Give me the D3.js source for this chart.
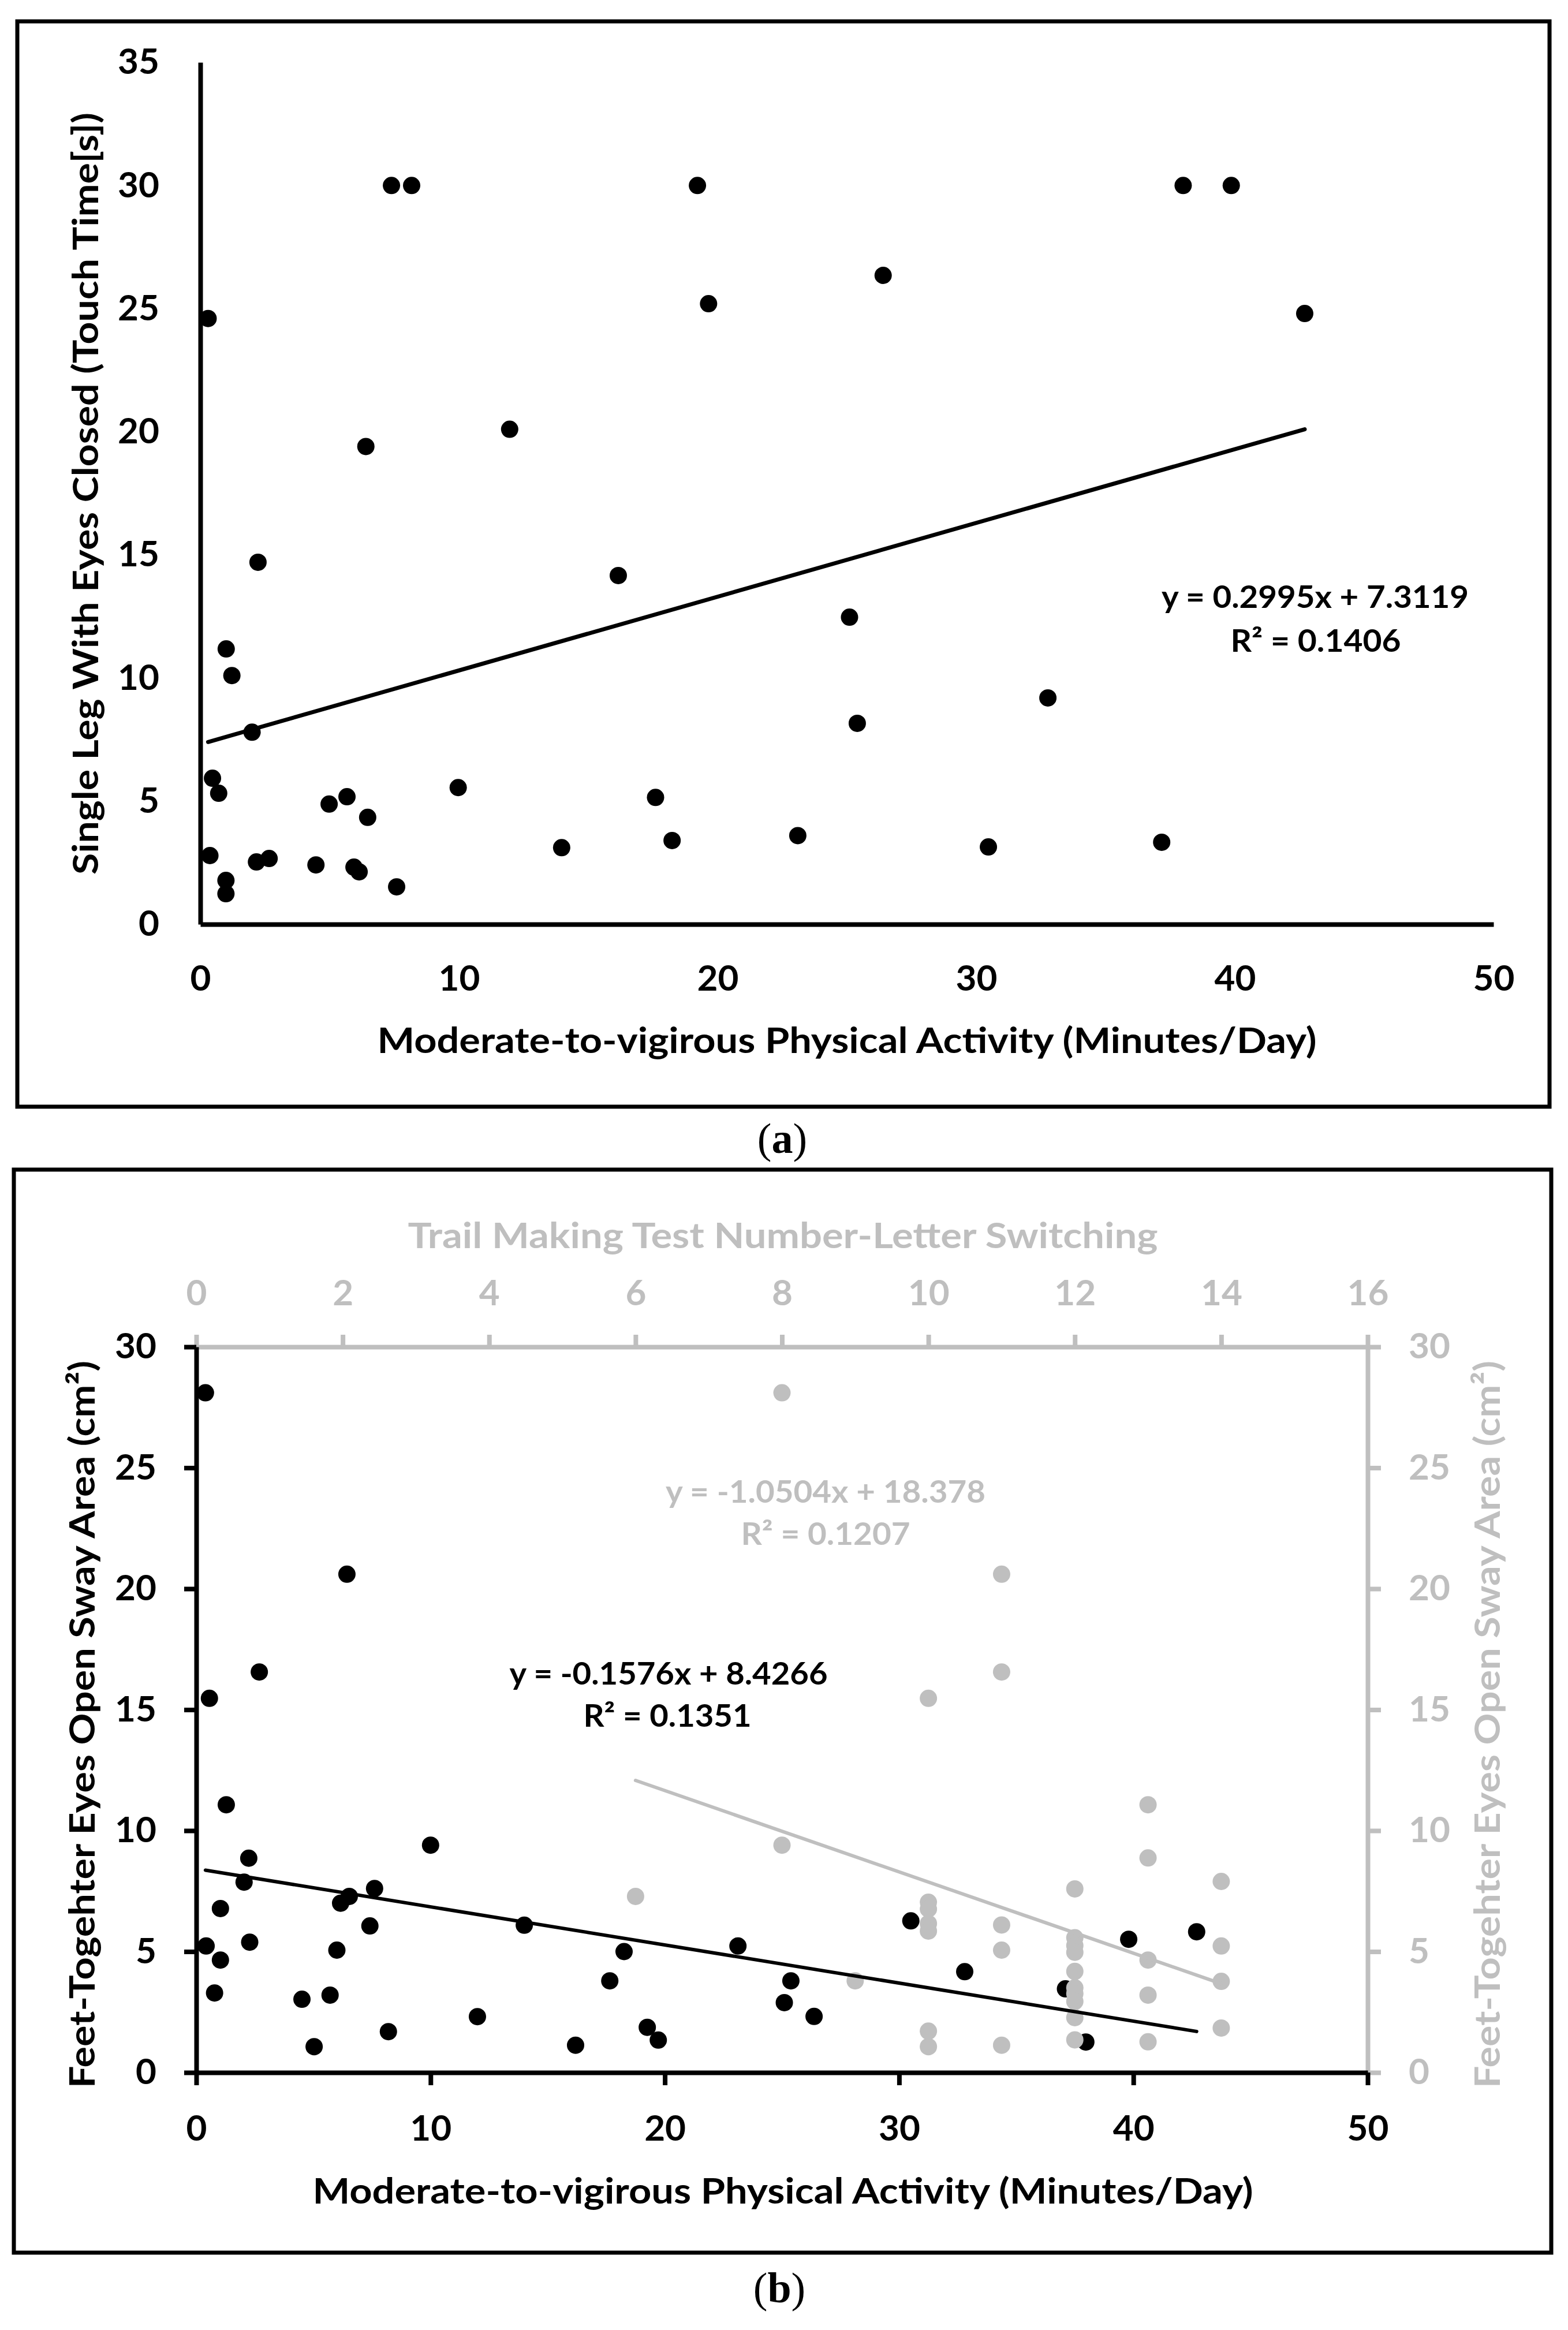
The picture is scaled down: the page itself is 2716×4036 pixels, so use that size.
<!DOCTYPE html>
<html>
<head>
<meta charset="utf-8">
<script src="https://cdn.jsdelivr.net/npm/d3@7"></script>
<style>
    body { margin: 0; background: #fff; }
    svg { display: block; }
    text { font-family: Lato, "Open Sans", sans-serif; font-weight: bold; }
</style>
</head>
<body>
<div id="container"></div>
<script>

// ---- panel (a) : MVPA vs single leg eyes closed
var mvpaA = [0.3, 7.39, 8.17, 19.22, 19.65, 11.96, 6.4, 2.23, 16.16, 38.0, 39.86, 26.4, 42.7,
    1.0, 1.22, 2.0, 0.47, 0.71, 4.98, 5.67, 6.47, 9.97, 17.6, 18.24, 13.97, 0.37, 2.17, 2.66,
    4.47, 5.94, 6.14, 0.99, 0.99, 7.59, 25.1, 25.4, 32.77, 23.1, 30.47, 37.17];
var slecA = [24.6, 30, 30, 30, 25.2, 20.1, 19.4, 14.7, 14.16, 30, 30, 26.35, 24.8,
    11.18, 10.1, 7.8, 5.93, 5.32, 4.88, 5.18, 4.34, 5.55, 5.15, 3.4, 3.11, 2.79, 2.53, 2.67,
    2.41, 2.32, 2.13, 1.78, 1.24, 1.52, 12.47, 8.16, 9.19, 3.6, 3.14, 3.33];
var fitA = { slope: 0.2995, intercept: 7.3119, r2: "0.1406" };

// ---- panel (b) : MVPA (black) and TMT switching (grey) vs feet-together eyes open sway
var mvpaB = [0.39, 6.43, 2.69, 0.56, 1.28, 2.24, 2.04, 1.03, 0.42, 1.03, 2.28, 0.78, 6.53,
    6.16, 7.61, 7.41, 6.0, 4.51, 5.71, 5.03, 8.2, 10.0, 12.0, 14.0, 16.19, 17.65, 18.26,
    19.25, 19.72, 23.12, 25.38, 25.1, 26.37, 30.5, 32.8, 37.1, 37.97, 39.8, 42.7];
var swayB = [28.1, 20.6, 16.56, 15.47, 11.07, 8.86, 7.87, 6.78, 5.23, 4.65, 5.39, 3.29, 7.28,
    7.0, 7.61, 6.06, 5.06, 3.03, 3.2, 1.07, 1.69, 9.4, 2.31, 6.09, 1.13, 3.79, 5.0,
    1.87, 1.34, 5.23, 3.79, 2.89, 2.32, 6.27, 4.17, 3.46, 1.26, 5.51, 5.82];
var tmtB = [8, 11, 11, 10, 8, 6, 9,
    10, 10, 10, 10, 10, 10,
    11, 11, 11,
    12, 12, 12, 12, 12, 12, 12, 12, 12, 12,
    13, 13, 13, 13, 13,
    14, 14, 14, 14];
var swayTmtB = [28.1, 20.6, 16.56, 15.47, 9.4, 7.28, 3.79,
    7.04, 6.76, 6.16, 5.85, 1.71, 1.07,
    6.1, 5.06, 1.13,
    7.59, 5.57, 5.25, 4.97, 4.18, 3.5, 3.26, 2.94, 2.27, 1.35,
    11.07, 8.87, 4.65, 3.2, 1.27,
    7.9, 5.23, 3.77, 1.84];
var fitB = { slope: -0.1576, intercept: 8.4266, r2: "0.1351" };
var fitTmt = { slope: -1.0504, intercept: 18.378, r2: "0.1207" };

var ticksMvpa = [0, 10, 20, 30, 40, 50];
var ticksSlec = [0, 5, 10, 15, 20, 25, 30, 35];
var ticksSway = [0, 5, 10, 15, 20, 25, 30];
var ticksTmt = [0, 2, 4, 6, 8, 10, 12, 14, 16];

var GREY = "#bfbfbf";
var FS = 62;

var svg = d3.select("#container").append("svg")
    .attr("width", 2716)
    .attr("height", 4036);

svg.append("rect").attr("width", 2716).attr("height", 4036).attr("fill", "#fff");

function styleAxis(g, color, width)
{
    g.select(".domain").attr("stroke", color).attr("stroke-width", width);
    g.selectAll(".tick line").attr("stroke", color).attr("stroke-width", width);
    g.selectAll(".tick text")
        .attr("fill", color)
        .style("font-size", FS + "px")
        .style("font-family", "Lato, sans-serif")
        .style("font-weight", "bold");
}

function label(x, y, str, color, size, len, rotate)
{
    var t = svg.append("text")
        .attr("text-anchor", "middle")
        .attr("dy", "0.35em")
        .attr("fill", color)
        .style("font-size", size + "px")
        .text(str);
    if (rotate)
        t.attr("transform", "translate(" + x + "," + y + ") rotate(-90)");
    else
        t.attr("x", x).attr("y", y);
    if (len)
        t.attr("textLength", len).attr("lengthAdjust", "spacingAndGlyphs");
    return t;
}

function eqText(fit)
{
    var b = Math.abs(fit.intercept);
    return "y = " + fit.slope + "x + " + b;
}

function trend(g, x, y, fit, xs, color, width)
{
    var ext = d3.extent(xs);
    g.append("line")
        .attr("x1", x(ext[0])).attr("y1", y(fit.intercept + fit.slope * ext[0]))
        .attr("x2", x(ext[1])).attr("y2", y(fit.intercept + fit.slope * ext[1]))
        .attr("stroke", color)
        .attr("stroke-width", width)
        .attr("stroke-linecap", "round");
}

function dots(g, x, y, xs, ys, color)
{
    g.selectAll(null)
        .data(xs.map(function (v, i) { return [v, ys[i]]; }))
        .enter().append("circle")
        .attr("cx", function (d) { return x(d[0]); })
        .attr("cy", function (d) { return y(d[1]); })
        .attr("r", 15)
        .attr("fill", color);
}

// ================= panel (a)
svg.append("rect")
    .attr("x", 30).attr("y", 37).attr("width", 2654).attr("height", 1880)
    .attr("fill", "none").attr("stroke", "#000").attr("stroke-width", 7);

var xA = d3.scaleLinear().domain([0, 50]).range([347, 2587]);
var yA = d3.scaleLinear().domain([0, 35]).range([1601, 108]);
var gA = svg.append("g");

dots(gA, xA, yA, mvpaA, slecA, "#000");
trend(gA, xA, yA, fitA, mvpaA, "#000", 7);

var axA = gA.append("g").attr("transform", "translate(0,1601)")
    .call(d3.axisBottom(xA).tickValues(ticksMvpa).tickSize(0).tickPadding(71));
styleAxis(axA, "#000", 8);
var ayA = gA.append("g").attr("transform", "translate(347,0)")
    .call(d3.axisLeft(yA).tickValues(ticksSlec).tickSize(0).tickPadding(71));
styleAxis(ayA, "#000", 8);

label(1467, 1802, "Moderate-to-vigirous Physical Activity (Minutes/Day)", "#000", 62, 1627);
label(148, 855, "Single Leg With Eyes Closed (Touch Time[s])", "#000", 62, 1320, true);
label(2278, 1034, eqText(fitA), "#000", 54, 532);
label(2279, 1110, "R² = " + fitA.r2, "#000", 54, 295);

var capA = svg.append("text").attr("x", 1355).attr("y", 1997)
    .attr("text-anchor", "middle")
    .style("font-family", "'Liberation Serif', serif").style("font-weight", "normal")
    .style("font-size", "74px");
capA.append("tspan").text("(");
capA.append("tspan").style("font-weight", "bold").text("a");
capA.append("tspan").text(")");

// ================= panel (b)
svg.append("rect")
    .attr("x", 24).attr("y", 2026).attr("width", 2663).attr("height", 1876)
    .attr("fill", "none").attr("stroke", "#000").attr("stroke-width", 7);

var xB = d3.scaleLinear().domain([0, 50]).range([340, 2369]);
var xT = d3.scaleLinear().domain([0, 16]).range([340, 2369]);
var yB = d3.scaleLinear().domain([0, 30]).range([3590, 2333]);
var gB = svg.append("g");

// grey secondary axes first so the black ones sit on top
var axT = gB.append("g").attr("transform", "translate(0,2333)")
    .call(d3.axisTop(xT).tickValues(ticksTmt).tickSizeInner(21).tickSizeOuter(0).tickPadding(51));
styleAxis(axT, GREY, 8);
var ayR = gB.append("g").attr("transform", "translate(2369,0)")
    .call(d3.axisRight(yB).tickValues(ticksSway).tickSizeInner(23).tickSizeOuter(0).tickPadding(48));
styleAxis(ayR, GREY, 8);

var axB = gB.append("g").attr("transform", "translate(0,3590)")
    .call(d3.axisBottom(xB).tickValues(ticksMvpa).tickSizeInner(22).tickSizeOuter(0).tickPadding(52));
styleAxis(axB, "#000", 8);
var ayB = gB.append("g").attr("transform", "translate(340,0)")
    .call(d3.axisLeft(yB).tickValues(ticksSway).tickSizeInner(21).tickSizeOuter(0).tickPadding(48));
styleAxis(ayB, "#000", 8);

dots(gB, xB, yB, mvpaB, swayB, "#000");
dots(gB, xT, yB, tmtB, swayTmtB, GREY);
trend(gB, xB, yB, fitB, mvpaB, "#000", 6);
trend(gB, xT, yB, fitTmt, tmtB, GREY, 6);

label(1356, 3795, "Moderate-to-vigirous Physical Activity (Minutes/Day)", "#000", 62, 1629);
label(1356, 2140, "Trail Making Test Number-Letter Switching", GREY, 62, 1299);
label(142, 2987, "Feet-Togehter Eyes Open Sway Area (cm²)", "#000", 62, 1260, true);
label(2576, 2987, "Feet-Togehter Eyes Open Sway Area (cm²)", GREY, 62, 1260, true);

label(1430, 2584, eqText(fitTmt), GREY, 54, 554);
label(1430, 2657, "R² = " + fitTmt.r2, GREY, 54, 293);
label(1158, 2899, eqText(fitB), "#000", 54, 551);
label(1156, 2972, "R² = " + fitB.r2, "#000", 54, 291);

var capB = svg.append("text").attr("x", 1350).attr("y", 3988)
    .attr("text-anchor", "middle")
    .style("font-family", "'Liberation Serif', serif").style("font-weight", "normal")
    .style("font-size", "74px");
capB.append("tspan").text("(");
capB.append("tspan").style("font-weight", "bold").text("b");
capB.append("tspan").text(")");

</script>
</body>
</html>
